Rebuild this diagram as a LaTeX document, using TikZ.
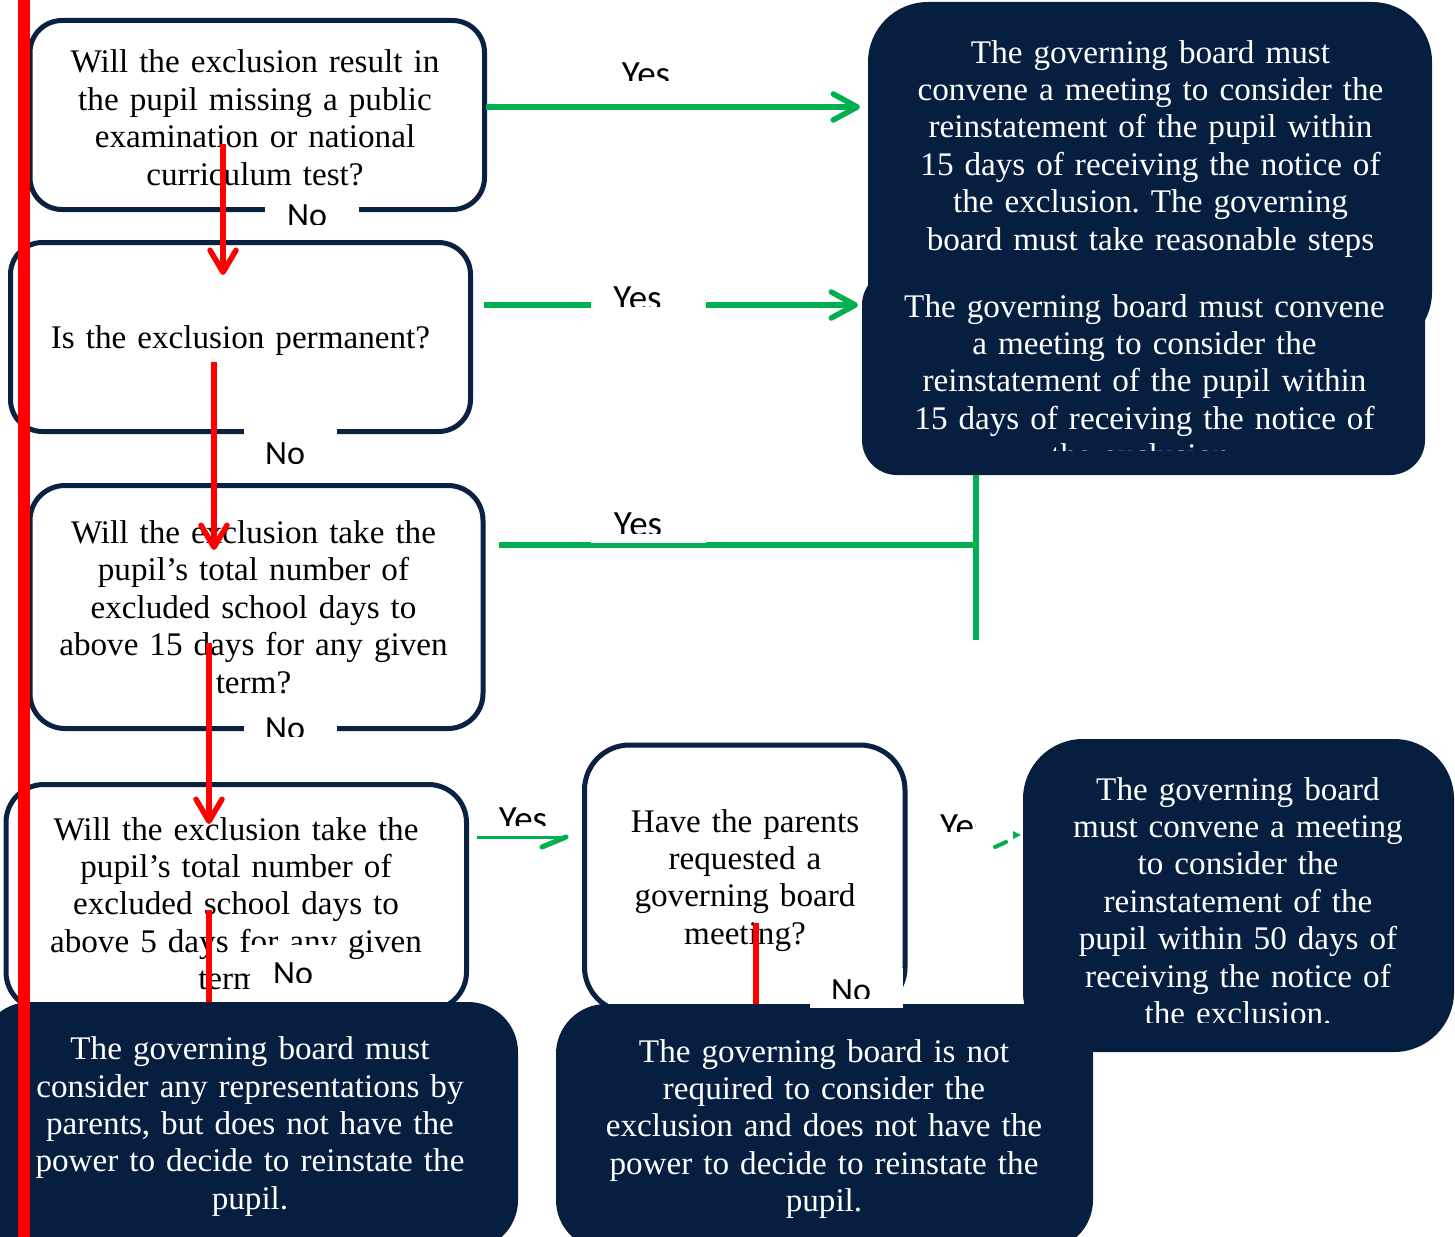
\documentclass[tikz,border=0pt]{standalone}
\usepackage{fontspec}
\setmainfont{Liberation Serif}[FakeStretch=1.005]
\newfontfamily\lblfont{Carlito}
\usetikzlibrary{arrows.meta}
\frenchspacing
\definecolor{navy}{RGB}{6,31,64}
\definecolor{navyline}{RGB}{10,33,66}
\definecolor{ggreen}{RGB}{0,176,80}
\definecolor{rred}{RGB}{255,0,0}
\tikzset{
  qbox/.style={draw=navyline, line width=5pt, fill=white, rounded corners=#1, inner sep=0pt, outer sep=0pt},
  dbox/.style={fill=navy, draw=none, rounded corners=#1, inner sep=0pt, outer sep=0pt},
  btxt/.style={anchor=north, inner sep=0pt, text width=640pt, align=center, font=\fontsize{33}{37.4}\selectfont},
  wtxt/.style={btxt, text=white},
  garrow/.style={draw=ggreen, line width=5.5pt, -{Straight Barb[length=24pt,width=26pt,round]}},
  gline/.style={draw=ggreen, line width=5.5pt},
  rarrow/.style={draw=rred, line width=5.5pt, -{Straight Barb[length=22pt,width=26pt,round]}},
  rline/.style={draw=rred, line width=5.5pt},
  notxt/.style={anchor=base, inner sep=0pt, font=\lblfont\fontsize{34}{40}\selectfont},
  yestxt/.style={anchor=base, inner sep=0pt, font=\lblfont\fontsize{37}{44}\selectfont},
  lblbg/.style={fill=white, draw=none},
}
\begin{document}
\begin{tikzpicture}[x=1pt,y=-1pt]
\useasboundingbox (0,0) rectangle (1455,1236);
\clip (0,0) rectangle (1455,1236);

% ---------- question boxes ----------
\node[qbox=32pt, minimum width=454.5pt, minimum height=189pt] (q1) at (257.25,115) {};
\node[qbox=32pt, minimum width=460pt, minimum height=189pt] (q2) at (240.5,337) {};
\node[qbox=35pt, minimum width=453pt, minimum height=243pt] (q3) at (256.5,607) {};
\node[qbox=38pt, minimum width=460.5pt, minimum height=225.5pt] (q4) at (236.25,897.25) {};
\node[qbox=45pt, minimum width=320.5pt, minimum height=267pt] (q6) at (744.75,878.5) {};

\begin{scope}
\clip (0,0) rectangle (1455,185);
\node[btxt] (t1) at (255,46.5) {\strut Will the exclusion result in\\the pupil missing a public\\examination or national\\curriculum test?};
\end{scope}
\node[btxt] (t2) at (240.5,321.8) {\strut Is the exclusion permanent?};
\node[btxt] (t3) at (253.5,517.1) {\strut Will the exclusion take the\\pupil’s total number of\\excluded school days to\\above 15 days for any given\\term?};
\node[btxt] (t4) at (236,813.8) {\strut Will the exclusion take the\\pupil’s total number of\\excluded school days to\\above 5 days for any given\\term?};
\node[btxt] (t6) at (745,805.8) {\strut Have the parents\\requested a\\governing board\\meeting?};

% ---------- green connectors ----------
\coordinate (g1s) at (486,107);  \coordinate (g1e) at (860,107);
\coordinate (g2s) at (484,305);  \coordinate (g2e) at (858,305);
\coordinate (g3s) at (499,545);  \coordinate (g3j) at (976,545);
\coordinate (g3t) at (976,440);  \coordinate (g3b) at (976,640);
\coordinate (g4s) at (477,837);  \coordinate (g4e) at (562,837);
\coordinate (g4b) at (542,847);  \coordinate (g4t) at (566,837);
\coordinate (g5a) at (995,847);  \coordinate (g5b) at (1006,842);
\draw[garrow] (g1s) -- (g1e);
\draw[garrow] (g2s) -- (g2e);
\draw[gline] (g3s) -- (g3j);
\draw[gline] (g3t) -- (g3b);
\draw[draw=ggreen, line width=3pt] (g4s) -- (g4e);
\draw[draw=ggreen, line width=5pt, line cap=round] (g4b) -- (g4t);
\draw[draw=ggreen, line width=4pt, line cap=round] (g5a) -- (g5b);
\fill[ggreen] (1013,831) -- (1021,835) -- (1013,839) -- cycle;

% ---------- red connectors ----------
\coordinate (r1s) at (223,144);  \coordinate (r1e) at (223,275);
\coordinate (r2s) at (214,362);  \coordinate (r2e) at (214,550);
\coordinate (r3s) at (209,643);  \coordinate (r3e) at (209,824);
\coordinate (r4s) at (209,910);  \coordinate (r4e) at (209,1010);
\coordinate (r5s) at (756,923);  \coordinate (r5e) at (756,1010);
\draw[rarrow] (r1s) -- (r1e);
\draw[rarrow] (r2s) -- (r2e);
\draw[rarrow] (r3s) -- (r3e);
\draw[rline] (r4s) -- (r4e);
\draw[rline] (r5s) -- (r5e);

% ---------- outcome boxes ----------
\node[dbox=60pt, minimum width=564pt, minimum height=350pt] (d1) at (1150,177) {};
\node[wtxt] (d1t) at (1150.5,36.8) {\strut The governing board must\\convene a meeting to consider the\\reinstatement of the pupil within\\15 days of receiving the notice of\\the exclusion. The governing\\board must take reasonable steps};
\node[dbox=35pt, minimum width=563pt, minimum height=205pt] (d2) at (1143.5,372.5) {};
\begin{scope}
\clip (0,0) rectangle (1455,450);
\node[wtxt] (d2t) at (1144.5,290.8) {\strut The governing board must convene\\a meeting to consider the\\reinstatement of the pupil within\\15 days of receiving the notice of\\the exclusion.};
\end{scope}
\node[dbox=60pt, minimum width=431pt, minimum height=313pt] (d3) at (1238.5,895.5) {};
\begin{scope}
\clip (0,0) rectangle (1455,1022);
\node[wtxt] (d3t) at (1238,773.8) {\strut The governing board\\must convene a meeting\\to consider the\\reinstatement of the\\pupil within 50 days of\\receiving the notice of\\the exclusion.};
\end{scope}
\node[dbox=50pt, minimum width=537pt, minimum height=246pt] (d5) at (824.5,1127) {};
\node[wtxt] (d5t) at (824,1035.8) {\strut The governing board is not\\required to consider the\\exclusion and does not have the\\power to decide to reinstate the\\pupil.};
\node[dbox=50pt, minimum width=538pt, minimum height=248pt] (d4) at (249,1126) {};
\node[wtxt] (d4t) at (250,1033.3) {\strut The governing board must\\consider any representations by\\parents, but does not have the\\power to decide to reinstate the\\pupil.};

% ---------- labels ----------
\fill[lblbg] (265,199) rectangle (359,226);
\begin{scope}\clip (265,190) rectangle (359,224);
\node[notxt] (n1) at (307,226.5) {No};\end{scope}

\fill[lblbg] (244,420) rectangle (337,464);
\begin{scope}\clip (244,420) rectangle (337,463);
\node[notxt] (n2) at (285,464.5) {No};\end{scope}

\fill[lblbg] (244,715) rectangle (337,738);
\begin{scope}\clip (244,700) rectangle (337,736);
\node[notxt] (n3) at (285,739.5) {No};\end{scope}

\fill[lblbg] (250,945) rectangle (342,1000);
\begin{scope}\clip (250,945) rectangle (342,982);
\node[notxt] (n4) at (293,984.5) {No};\end{scope}

\fill[lblbg] (810,968) rectangle (903,1008);
\begin{scope}\clip (810,968) rectangle (903,998);
\node[notxt] (n6) at (851,1001.5) {No};\end{scope}

\fill[lblbg] (591,52) rectangle (706,81);
\begin{scope}\clip (591,40) rectangle (706,81);
\node[yestxt] (y1) at (646,86.4) {Yes};\end{scope}

\fill[lblbg] (591,280) rectangle (706,309);
\begin{scope}\clip (591,270) rectangle (706,306);
\node[yestxt] (y2) at (637.5,310.4) {Yes};\end{scope}

\fill[lblbg] (591,505) rectangle (706,543);
\begin{scope}\clip (591,495) rectangle (706,533);
\node[yestxt] (y3) at (638,536.4) {Yes};\end{scope}

\begin{scope}\clip (490,795) rectangle (560,825);
\node[yestxt] (y4) at (523,831.4) {Yes};\end{scope}

\begin{scope}\clip (930,800) rectangle (975,831);
\node[yestxt, anchor=base west] (y5) at (940,838.4) {Yes};\end{scope}

% ---------- long red rule ----------
\coordinate (bigtop) at (24.2,-10);
\coordinate (bigbot) at (24.2,1250);
\draw[draw=rred, line width=11.7pt] (bigtop) -- (bigbot);
\end{tikzpicture}
\end{document}
